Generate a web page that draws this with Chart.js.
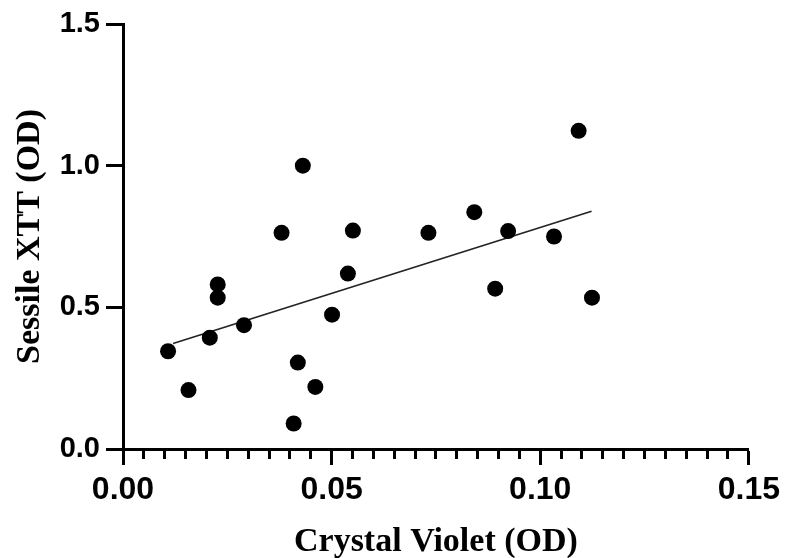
<!DOCTYPE html>
<html lang="en">
<head>
    <meta charset="UTF-8">
    <title>Sessile XTT vs Crystal Violet</title>
    <script src="https://cdn.jsdelivr.net/npm/chart.js"></script>
    <style>
        body {
            margin: 0;
            background-color: #fff;
        }
        canvas {
            display: block;
        }
    </style>
</head>
<body>
    <canvas id="myChart" width="786" height="558"></canvas>
    <script>
        // values
        const crystalViolet = [0.0108, 0.0157, 0.0208, 0.0227, 0.0227, 0.029, 0.038, 0.0409, 0.0419, 0.0431, 0.0461,
                               0.0501, 0.0539, 0.0551, 0.0732, 0.0842, 0.0892, 0.0923, 0.1033, 0.1092, 0.1124];
        const sessileXTT = [0.345, 0.208, 0.393, 0.581, 0.534, 0.437, 0.763, 0.090, 0.305, 1.0, 0.219,
                            0.474, 0.619, 0.771, 0.763, 0.836, 0.566, 0.769, 0.75, 1.123, 0.534];
        // linear fit line, its two ends
        const fitX = [0.012, 0.1123];
        const fitY = [0.372, 0.839];

        const xTicks = [0, 0.15, 0.005];   // min, max, minor step
        const yTicks = [0, 1.5, 0.5];

        const points = crystalViolet.map((x, i) => ({ x: x, y: sessileXTT[i] }));
        const fitLine = fitX.map((x, i) => ({ x: x, y: fitY[i] }));

        const ctx = document.getElementById('myChart').getContext('2d');
        new Chart(ctx, {
            type: 'scatter',
            data: {
                datasets: [{
                    data: points,
                    backgroundColor: '#000',
                    borderWidth: 0,
                    pointRadius: 8,
                    pointHoverRadius: 8
                }, {
                    type: 'line',
                    data: fitLine,
                    borderColor: '#222',
                    borderWidth: 1.6,
                    pointRadius: 0,
                    fill: false
                }]
            },
            options: {
                responsive: false,
                animation: false,
                layout: {
                    padding: { top: 24, right: 35, left: 0, bottom: 0 }
                },
                plugins: {
                    legend: { display: false },
                    tooltip: { enabled: false }
                },
                scales: {
                    x: {
                        type: 'linear',
                        min: xTicks[0],
                        max: xTicks[1],
                        afterFit: function(scale) { scale.height = 109; },
                        border: { display: true, color: '#000', width: 3 },
                        grid: {
                            drawOnChartArea: false,
                            drawTicks: true,
                            tickLength: 16,
                            tickWidth: 3,
                            tickColor: '#000',
                            tickBorderDash: function(c) {
                                return c.index % 10 === 0 ? [] : [8, 100];
                            }
                        },
                        ticks: {
                            stepSize: xTicks[2],
                            maxTicksLimit: 100,
                            autoSkip: false,
                            maxRotation: 0,
                            padding: 6,
                            color: '#000',
                            font: { family: 'Liberation Sans', weight: 'bold', size: 32 },
                            callback: function(value, index) {
                                return index % 10 === 0 ? value.toFixed(2) : '';
                            }
                        },
                        title: {
                            display: true,
                            text: 'Crystal Violet (OD)',
                            color: '#000',
                            font: { family: 'Liberation Serif', weight: 'bold', size: 34, lineHeight: 0.9 },
                            padding: 0
                        }
                    },
                    y: {
                        min: yTicks[0],
                        max: yTicks[1],
                        afterFit: function(scale) { scale.width = 123; },
                        border: { display: true, color: '#000', width: 3 },
                        grid: {
                            drawOnChartArea: false,
                            drawTicks: true,
                            tickLength: 17,
                            tickWidth: 3,
                            tickColor: '#000'
                        },
                        ticks: {
                            stepSize: yTicks[2],
                            padding: 6,
                            color: '#000',
                            font: { family: 'Liberation Sans', weight: 'bold', size: 29 },
                            callback: function(value) {
                                return value.toFixed(1);
                            }
                        },
                        title: {
                            display: true,
                            text: 'Sessile XTT (OD)',
                            color: '#000',
                            font: { family: 'Liberation Serif', weight: 'bold', size: 34 },
                            padding: { top: 10, bottom: 0 }
                        }
                    }
                }
            }
        });
    </script>
</body>
</html>
